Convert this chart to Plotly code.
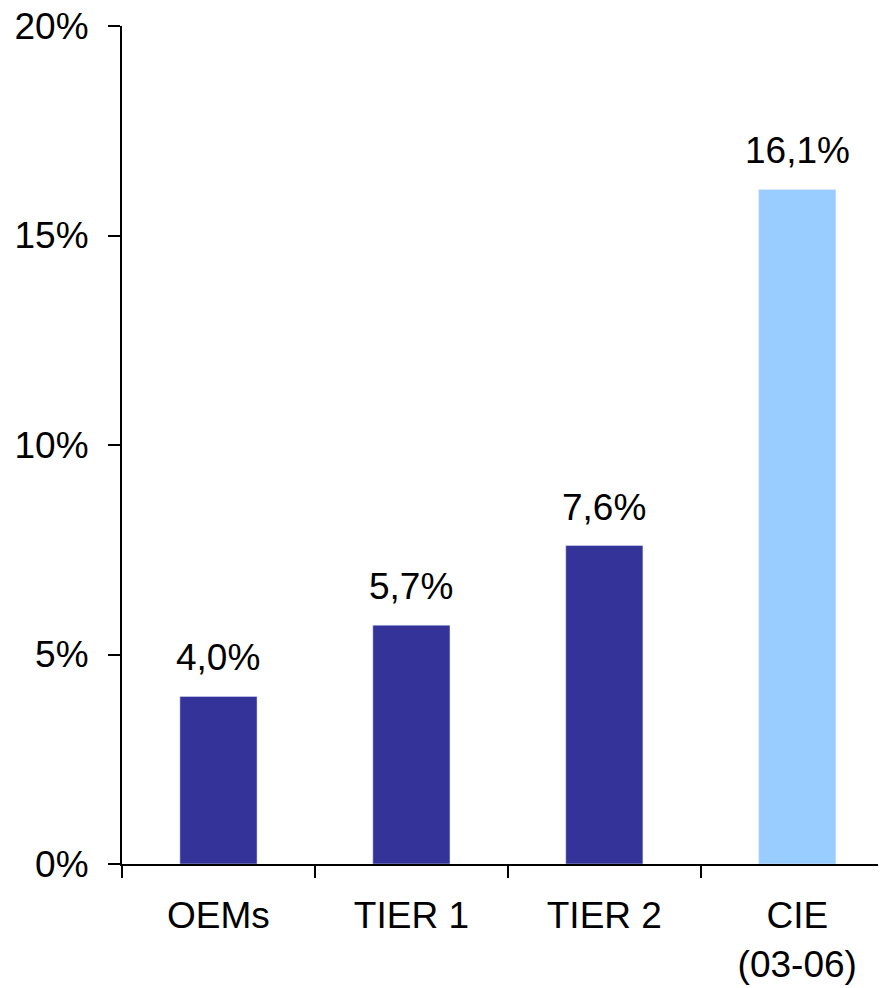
import plotly.graph_objects as go

categorias = ['OEMs', 'TIER 1', 'TIER 2', 'CIE<br>(03-06)']
valores = [4.0, 5.7, 7.6, 16.1]
colores = ['#333399', '#333399', '#333399', '#99CCFF']
etiquetas = [f"{v:.1f}%".replace('.', ',') for v in valores]
ticks_y = [0, 5, 10, 15, 20]
ticks_y_txt = ['0%', '5%', '10%', '15%', '20%']

fig = go.Figure(go.Bar(
    x=categorias,
    y=valores,
    marker_color=colores,
    width=0.4,
))

# etiquetas de valor encima de cada barra
for cat, v, txt in zip(categorias, valores, etiquetas):
    fig.add_annotation(
        x=cat, y=v, text=txt, showarrow=False,
        yanchor='bottom', yshift=16,
        font=dict(size=37, color='black'),
    )

fig.update_layout(
    width=886,
    height=988,
    margin=dict(l=114, r=8, t=18, b=132, autoexpand=False),
    plot_bgcolor='white',
    paper_bgcolor='white',
    font=dict(family='Liberation Sans, Arial', size=37, color='black'),
    showlegend=False,
    xaxis=dict(
        range=[-0.5, 3.46],
        showline=True, linecolor='black', linewidth=2,
        ticks='outside', tickson='boundaries', ticklen=12,
        tickcolor='black', tickwidth=2,
        showgrid=False,
        tickfont=dict(size=37),
        ticklabelstandoff=18,
        automargin=False,
    ),
    yaxis=dict(
        range=[0, 20],
        tickvals=ticks_y,
        ticktext=ticks_y_txt,
        showline=True, linecolor='black', linewidth=2,
        ticks='outside', ticklen=12, tickcolor='black', tickwidth=2,
        showgrid=False, zeroline=False,
        tickfont=dict(size=37),
        ticklabelstandoff=12,
        ticklabeloverflow='allow',
        automargin=False,
    ),
)

fig.write_html("out.html")
